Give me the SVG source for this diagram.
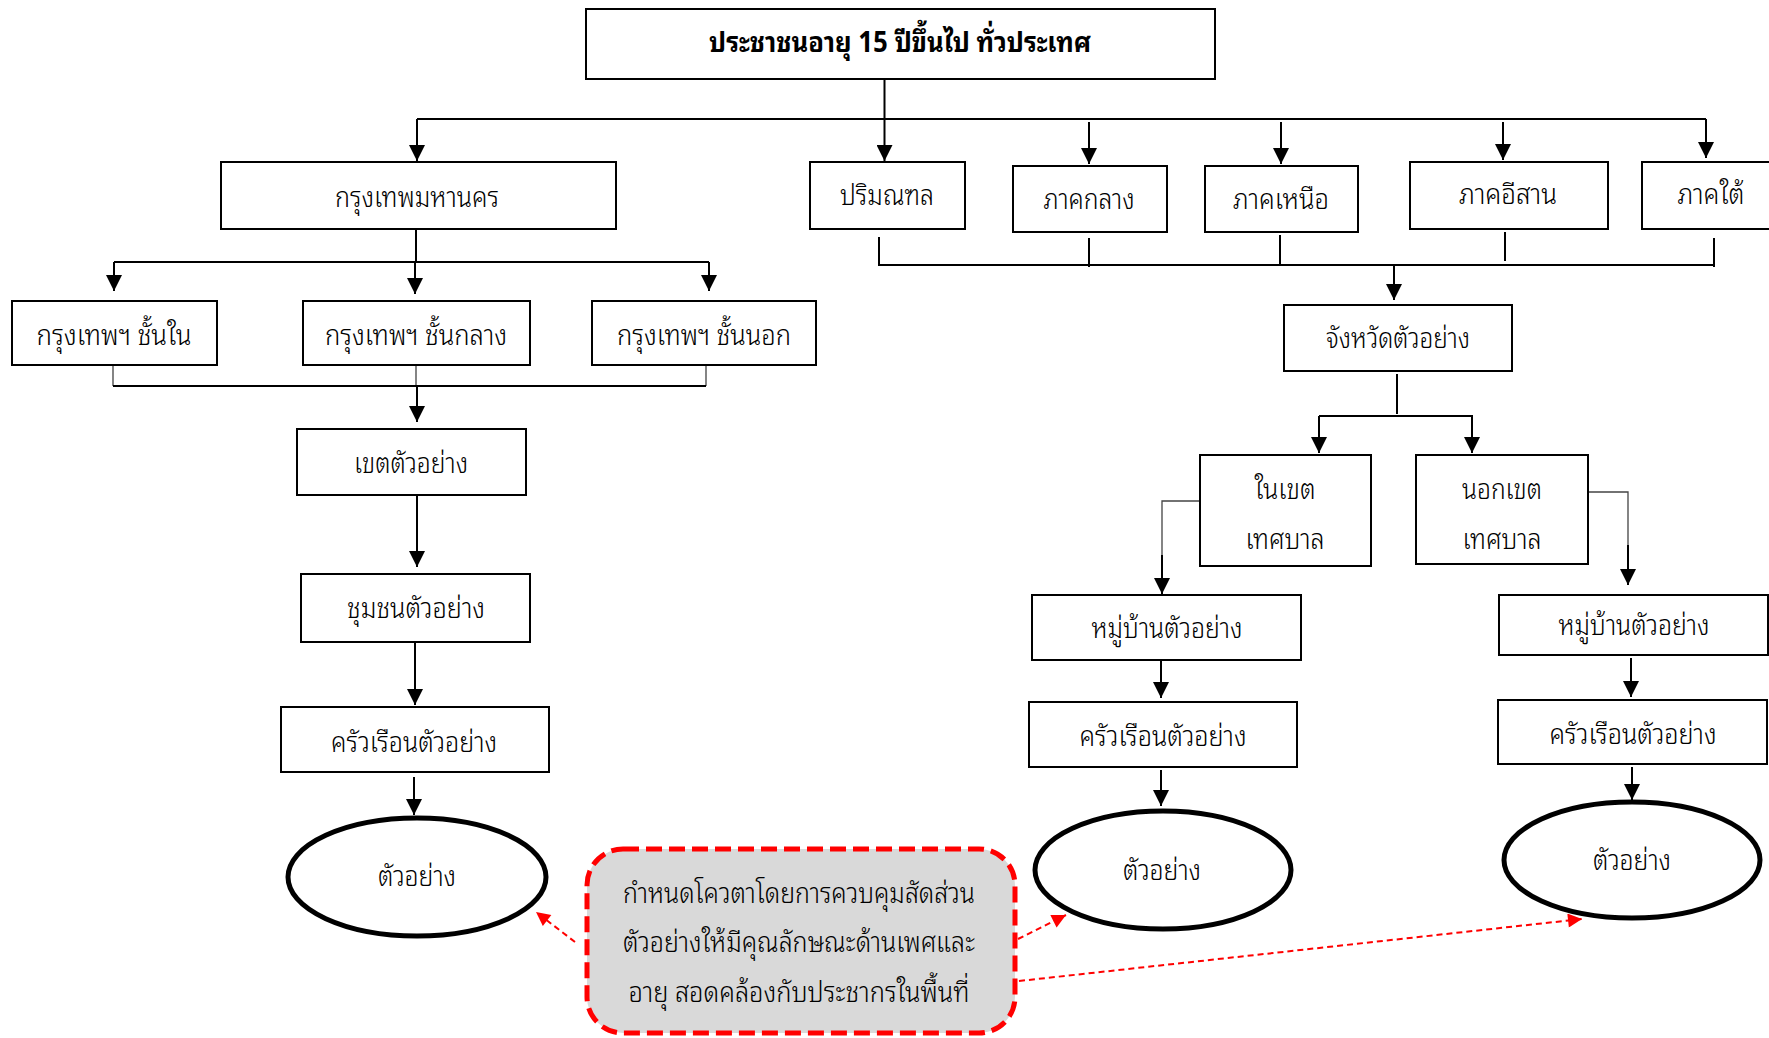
<svg xmlns="http://www.w3.org/2000/svg" width="1769" height="1038" viewBox="0 0 1769 1038">
<defs>
<marker id="ah" viewBox="0 0 10 10" refX="10" refY="5" markerUnits="userSpaceOnUse" markerWidth="16" markerHeight="16" orient="auto"><path d="M0,0 L10,5 L0,10 z" fill="#000"/></marker>
<marker id="ahr" viewBox="0 0 10 10" refX="10" refY="5" markerUnits="userSpaceOnUse" markerWidth="16" markerHeight="14" orient="auto"><path d="M0,0 L10,5 L0,10 z" fill="#f00"/></marker>
<style>
.box{fill:#fff;stroke:#000;stroke-width:2}
.ell{fill:#fff;stroke:#000;stroke-width:5}
.note{fill:#d9d9d9;stroke:#f00;stroke-width:5;stroke-dasharray:16 7}
.t{font-family:"Noto Sans Thai Looped","Noto Sans Thai","Noto Sans","DejaVu Sans",sans-serif;font-size:28px;font-weight:300;fill:#000;text-anchor:middle}
.b{font-weight:bold}
.c{fill:none;stroke:#000;stroke-width:2}
.thin{fill:none;stroke:#444;stroke-width:1.3}
.red{fill:none;stroke:#f00;stroke-width:2;stroke-dasharray:6 4}
</style>
</defs>
<rect width="1769" height="1038" fill="#fff"/>
<g id="connectors">
<path class="c" d="M884.5,79 V119 M417,119 H1706"/>
<path class="c" d="M417,119 V161" marker-end="url(#ah)"/>
<path class="c" d="M884.5,119 V161" marker-end="url(#ah)"/>
<path class="c" d="M1089,122 V164" marker-end="url(#ah)"/>
<path class="c" d="M1281,122 V164" marker-end="url(#ah)"/>
<path class="c" d="M1503,122 V160" marker-end="url(#ah)"/>
<path class="c" d="M1706,119 V158" marker-end="url(#ah)"/>
<path class="c" d="M416,229 V262 M114,262 H709"/>
<path class="c" d="M114,262 V291" marker-end="url(#ah)"/>
<path class="c" d="M415,262 V294" marker-end="url(#ah)"/>
<path class="c" d="M709,262 V291" marker-end="url(#ah)"/>
<path class="thin" d="M113,366 V386 M706,366 V386 M416,366 V386"/>
<path class="c" d="M113,386 H706"/>
<path class="c" d="M417,386 V422" marker-end="url(#ah)"/>
<path class="c" d="M417,495 V567" marker-end="url(#ah)"/>
<path class="c" d="M415,642 V705" marker-end="url(#ah)"/>
<path class="c" d="M414,777 V815" marker-end="url(#ah)"/>
<path class="c" d="M879,237 V265 H1715 M1089,238 V267 M1280,235 V265 M1505,232 V261 M1714,238 V267"/>
<path class="c" d="M1394,265 V300" marker-end="url(#ah)"/>
<path class="c" d="M1397,374 V414 M1319,416 H1473"/>
<path class="c" d="M1319,416 V453" marker-end="url(#ah)"/>
<path class="c" d="M1472,416 V453" marker-end="url(#ah)"/>
<path class="thin" d="M1200,501 H1162 V560"/>
<path class="c" d="M1162,555 V594" marker-end="url(#ah)"/>
<path class="thin" d="M1588,492 H1628 V550"/>
<path class="c" d="M1628,545 V585" marker-end="url(#ah)"/>
<path class="c" d="M1161,660 V698" marker-end="url(#ah)"/>
<path class="c" d="M1161,770 V806" marker-end="url(#ah)"/>
<path class="c" d="M1631,658 V697" marker-end="url(#ah)"/>
<path class="c" d="M1632,767 V800" marker-end="url(#ah)"/>
<path class="red" d="M575,942 L536,912" marker-end="url(#ahr)"/>
<path class="red" d="M1018,939 L1066,915" marker-end="url(#ahr)"/>
<path class="red" d="M1019,981 L1582,919" marker-end="url(#ahr)"/>
</g>
<g id="n-top"><rect class="box" x="586" y="9" width="629" height="70"/><text class="t b" x="900" y="52" textLength="382" lengthAdjust="spacingAndGlyphs">ประชาชนอายุ 15 ปีขึ้นไป ทั่วประเทศ</text></g>
<g id="n-bkk"><rect class="box" x="221" y="162" width="395" height="67"/><text class="t" x="417" y="207" textLength="164" lengthAdjust="spacingAndGlyphs">กรุงเทพมหานคร</text></g>
<g id="n-perimeter"><rect class="box" x="810" y="162" width="155" height="67"/><text class="t" x="887" y="205" textLength="94" lengthAdjust="spacingAndGlyphs">ปริมณฑล</text></g>
<g id="n-central"><rect class="box" x="1013" y="166" width="154" height="66"/><text class="t" x="1089" y="209" textLength="91" lengthAdjust="spacingAndGlyphs">ภาคกลาง</text></g>
<g id="n-north"><rect class="box" x="1205" y="166" width="153" height="66"/><text class="t" x="1281" y="209" textLength="96" lengthAdjust="spacingAndGlyphs">ภาคเหนือ</text></g>
<g id="n-northeast"><rect class="box" x="1410" y="162" width="198" height="67"/><text class="t" x="1508" y="204" textLength="98" lengthAdjust="spacingAndGlyphs">ภาคอีสาน</text></g>
<g id="n-south"><rect class="box" x="1642" y="162" width="140" height="67"/><text class="t" x="1711" y="204" textLength="67" lengthAdjust="spacingAndGlyphs">ภาคใต้</text></g>
<g id="n-inner"><rect class="box" x="12" y="301" width="205" height="64"/><text class="t" x="114" y="345" textLength="155" lengthAdjust="spacingAndGlyphs">กรุงเทพฯ ชั้นใน</text></g>
<g id="n-middle"><rect class="box" x="303" y="301" width="227" height="64"/><text class="t" x="416" y="345" textLength="182" lengthAdjust="spacingAndGlyphs">กรุงเทพฯ ชั้นกลาง</text></g>
<g id="n-outer"><rect class="box" x="592" y="301" width="224" height="64"/><text class="t" x="704" y="345" textLength="174" lengthAdjust="spacingAndGlyphs">กรุงเทพฯ ชั้นนอก</text></g>
<g id="n-district"><rect class="box" x="297" y="429" width="229" height="66"/><text class="t" x="411" y="473" textLength="114" lengthAdjust="spacingAndGlyphs">เขตตัวอย่าง</text></g>
<g id="n-community"><rect class="box" x="301" y="574" width="229" height="68"/><text class="t" x="416" y="618" textLength="138" lengthAdjust="spacingAndGlyphs">ชุมชนตัวอย่าง</text></g>
<g id="n-hh-left"><rect class="box" x="281" y="707" width="268" height="65"/><text class="t" x="414" y="752" textLength="166" lengthAdjust="spacingAndGlyphs">ครัวเรือนตัวอย่าง</text></g>
<g id="n-sample-left"><ellipse class="ell" cx="417" cy="877" rx="129" ry="59"/><text class="t" x="417" y="886" textLength="78" lengthAdjust="spacingAndGlyphs">ตัวอย่าง</text></g>
<g id="n-province"><rect class="box" x="1284" y="305" width="228" height="66"/><text class="t" x="1398" y="348" textLength="144" lengthAdjust="spacingAndGlyphs">จังหวัดตัวอย่าง</text></g>
<g id="n-municipal-in"><rect class="box" x="1200" y="455" width="171" height="111"/><text class="t" x="1285" y="499" textLength="61" lengthAdjust="spacingAndGlyphs">ในเขต</text><text class="t" x="1285" y="549" textLength="79" lengthAdjust="spacingAndGlyphs">เทศบาล</text></g>
<g id="n-municipal-out"><rect class="box" x="1416" y="455" width="172" height="109"/><text class="t" x="1502" y="499" textLength="80" lengthAdjust="spacingAndGlyphs">นอกเขต</text><text class="t" x="1502" y="549" textLength="79" lengthAdjust="spacingAndGlyphs">เทศบาล</text></g>
<g id="n-village-in"><rect class="box" x="1032" y="595" width="269" height="65"/><text class="t" x="1167" y="638" textLength="151" lengthAdjust="spacingAndGlyphs">หมู่บ้านตัวอย่าง</text></g>
<g id="n-hh-in"><rect class="box" x="1029" y="702" width="268" height="65"/><text class="t" x="1163" y="746" textLength="167" lengthAdjust="spacingAndGlyphs">ครัวเรือนตัวอย่าง</text></g>
<g id="n-sample-in"><ellipse class="ell" cx="1163" cy="870" rx="128" ry="59"/><text class="t" x="1162" y="880" textLength="78" lengthAdjust="spacingAndGlyphs">ตัวอย่าง</text></g>
<g id="n-village-out"><rect class="box" x="1499" y="595" width="269" height="60"/><text class="t" x="1634" y="635" textLength="151" lengthAdjust="spacingAndGlyphs">หมู่บ้านตัวอย่าง</text></g>
<g id="n-hh-out"><rect class="box" x="1498" y="700" width="269" height="64"/><text class="t" x="1633" y="744" textLength="167" lengthAdjust="spacingAndGlyphs">ครัวเรือนตัวอย่าง</text></g>
<g id="n-sample-out"><ellipse class="ell" cx="1632" cy="860" rx="128" ry="58"/><text class="t" x="1632" y="870" textLength="78" lengthAdjust="spacingAndGlyphs">ตัวอย่าง</text></g>
<g id="n-note"><rect class="note" x="587" y="849" width="428" height="184" rx="36" ry="36"/><text class="t" x="799" y="903" textLength="352" lengthAdjust="spacingAndGlyphs">กำหนดโควตาโดยการควบคุมสัดส่วน</text><text class="t" x="799" y="952" textLength="352" lengthAdjust="spacingAndGlyphs">ตัวอย่างให้มีคุณลักษณะด้านเพศและ</text><text class="t" x="799" y="1002" textLength="341" lengthAdjust="spacingAndGlyphs">อายุ สอดคล้องกับประชากรในพื้นที่</text></g>
</svg>
